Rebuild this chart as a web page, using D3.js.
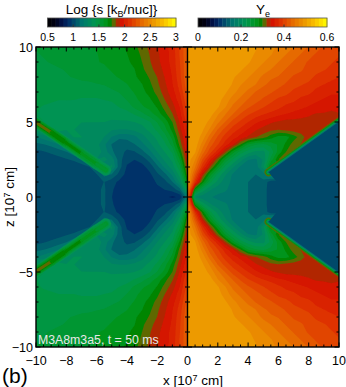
<!DOCTYPE html>
<html>
<head>
<meta charset="utf-8">
<script src="https://cdn.jsdelivr.net/npm/d3@7"></script>
<style>
  html, body { margin: 0; padding: 0; background: white; }
  svg { display: block; }
  text { font-family: "Liberation Sans", sans-serif; fill: black; }
</style>
</head>
<body>
<div id="chart"></div>
<script>
// entropy, Log s, grid: rows z = 10 ... 0 (step 0.5), columns x = -10 ... 0 (step 0.5)
const entropyRows = [
  [1.52,1.53,1.54,1.55,1.56,1.57,1.58,1.59,1.6,1.62,1.64,1.66,1.68,1.72,1.8,1.84,1.9,1.96,2.02,2.15,2.3],
  [1.51,1.52,1.53,1.54,1.55,1.56,1.57,1.58,1.59,1.61,1.63,1.65,1.67,1.7,1.77,1.83,1.89,1.95,2.01,2.15,2.3],
  [1.5,1.51,1.52,1.53,1.54,1.55,1.56,1.57,1.59,1.6,1.62,1.64,1.66,1.69,1.75,1.82,1.88,1.95,2.01,2.14,2.3],
  [1.49,1.5,1.5,1.51,1.52,1.53,1.54,1.55,1.56,1.58,1.6,1.62,1.64,1.67,1.73,1.8,1.86,1.93,2,2.13,2.3],
  [1.48,1.49,1.49,1.5,1.51,1.52,1.53,1.54,1.55,1.56,1.58,1.6,1.63,1.66,1.7,1.76,1.83,1.91,1.99,2.12,2.3],
  [1.48,1.48,1.48,1.48,1.49,1.49,1.5,1.5,1.51,1.52,1.54,1.56,1.59,1.63,1.67,1.73,1.81,1.89,1.98,2.1,2.28],
  [1.48,1.47,1.47,1.47,1.47,1.47,1.47,1.47,1.47,1.48,1.5,1.52,1.56,1.6,1.65,1.7,1.78,1.87,1.95,2.07,2.25],
  [1.47,1.46,1.45,1.44,1.44,1.44,1.43,1.43,1.43,1.44,1.45,1.48,1.52,1.57,1.62,1.66,1.73,1.83,1.92,2.03,2.22],
  [1.45,1.43,1.42,1.41,1.41,1.4,1.4,1.4,1.4,1.4,1.41,1.44,1.47,1.53,1.58,1.62,1.68,1.78,1.87,1.99,2.18],
  [1.44,1.42,1.4,1.39,1.39,1.38,1.38,1.38,1.38,1.38,1.38,1.39,1.4,1.44,1.49,1.55,1.62,1.72,1.82,1.96,2.15],
  [1.5,1.44,1.42,1.4,1.38,1.37,1.36,1.36,1.36,1.36,1.35,1.35,1.35,1.36,1.38,1.43,1.52,1.62,1.75,1.92,2.1],
  [1.4,1.39,1.38,1.37,1.36,1.36,1.35,1.34,1.33,1.31,1.29,1.28,1.28,1.3,1.33,1.38,1.46,1.56,1.7,1.88,2.06],
  [1.2,1.24,1.3,1.33,1.35,1.36,1.36,1.35,1.33,1.28,1.2,1.15,1.15,1.18,1.25,1.32,1.38,1.48,1.62,1.83,2.02],
  [1.1,1.12,1.15,1.2,1.27,1.33,1.35,1.35,1.31,1.22,1.12,1.06,1.08,1.12,1.18,1.26,1.34,1.42,1.55,1.78,2],
  [1.02,1.04,1.06,1.08,1.12,1.18,1.25,1.32,1.33,1.25,1.14,1.08,1.03,1.04,1.1,1.18,1.28,1.36,1.45,1.7,1.97],
  [1,1,1,1.02,1.04,1.06,1.12,1.2,1.28,1.3,1.25,1.08,.99,.97,1,1.08,1.2,1.3,1.38,1.6,1.93],
  [.99,.98,.98,.98,.98,.99,1,1.04,1.14,1.24,1.3,1.08,.96,.93,.94,1,1.1,1.22,1.32,1.5,1.88],
  [.98,.98,.98,.98,.98,.98,.98,1,1.04,1.15,1.12,1.02,.94,.92,.92,.95,1.03,1.1,1.22,1.4,1.8],
  [.97,.97,.97,.97,.97,.97,.97,.98,1,1.05,1,.95,.92,.91,.91,.93,.98,1.02,1.12,1.3,1.7],
  [.97,.97,.97,.97,.97,.97,.97,.97,1.03,1.06,.98,.93,.92,.91,.91,.93,.95,.97,1,1.1,1.5],
  [.97,.97,.97,.97,.97,.97,.97,.97,1.03,1.06,.97,.93,.92,.91,.91,.92,.92,.9,.88,.9,1.2]
];

// electron fraction Ye: rows z = 10 ... 0 (step 0.5), columns x = 0 ... 10 (step 0.5)
const yeRows = [
  [.5,.5,.5,.5,.5,.5,.5,.5,.5,.49,.48,.475,.465,.46,.45,.44,.43,.42,.41,.405,.4],
  [.5,.5,.5,.5,.5,.5,.5,.5,.495,.485,.475,.47,.46,.45,.44,.43,.42,.41,.405,.4,.395],
  [.5,.5,.5,.5,.5,.5,.5,.5,.49,.48,.47,.46,.45,.44,.43,.42,.41,.405,.4,.395,.39],
  [.5,.5,.5,.5,.5,.5,.5,.49,.48,.47,.46,.45,.44,.43,.42,.415,.405,.4,.395,.39,.385],
  [.5,.5,.5,.5,.5,.5,.49,.48,.47,.46,.445,.435,.43,.42,.41,.405,.4,.39,.385,.38,.375],
  [.5,.5,.5,.5,.5,.5,.485,.47,.46,.45,.435,.425,.42,.41,.4,.395,.39,.38,.375,.37,.37],
  [.5,.5,.5,.5,.5,.49,.475,.46,.445,.43,.42,.415,.405,.4,.39,.385,.38,.37,.365,.36,.36],
  [.5,.5,.5,.5,.495,.48,.46,.445,.43,.42,.41,.4,.39,.385,.38,.37,.365,.36,.355,.35,.35],
  [.5,.5,.5,.5,.49,.47,.445,.43,.415,.405,.395,.385,.38,.37,.365,.36,.355,.35,.345,.345,.345],
  [.5,.5,.5,.495,.47,.45,.43,.41,.395,.385,.375,.37,.36,.355,.35,.345,.34,.335,.335,.33,.335],
  [.5,.5,.5,.48,.455,.43,.405,.39,.375,.36,.35,.34,.335,.33,.33,.33,.33,.33,.33,.33,.33],
  [.5,.5,.49,.465,.43,.405,.385,.37,.355,.34,.33,.325,.32,.325,.33,.33,.33,.33,.33,.33,.33],
  [.5,.5,.48,.44,.41,.385,.365,.35,.335,.32,.31,.29,.275,.275,.29,.31,.33,.33,.33,.33,.33],
  [.5,.5,.46,.42,.395,.365,.34,.3,.26,.245,.24,.25,.265,.285,.31,.32,.32,.3,.3,.3,.3],
  [.5,.49,.44,.4,.365,.32,.27,.235,.215,.2,.2,.23,.27,.3,.31,.3,.3,.3,.3,.3,.3],
  [.5,.47,.41,.36,.31,.26,.225,.195,.17,.165,.19,.25,.3,.3,.28,.28,.28,.28,.28,.28,.28],
  [.5,.45,.38,.32,.27,.22,.19,.165,.15,.155,.2,.29,.28,.2,.115,.115,.115,.115,.115,.115,.115],
  [.5,.42,.33,.27,.22,.19,.165,.155,.15,.15,.16,.19,.2,.115,.115,.115,.115,.115,.115,.115,.115],
  [.5,.38,.29,.23,.2,.175,.165,.155,.15,.148,.145,.12,.115,.115,.115,.115,.115,.115,.115,.115,.115],
  [.48,.28,.22,.19,.175,.17,.165,.155,.15,.148,.145,.115,.115,.115,.115,.115,.115,.115,.115,.115,.115],
  [.45,.19,.175,.17,.165,.165,.16,.155,.15,.148,.145,.115,.115,.115,.115,.115,.115,.115,.115,.115,.115]
];

// thin high entropy ridge in the left panel (upper side, mirrored)
const ridgeX = [-10.2, -9, -8, -7, -6, -5.4];
const ridgeZ = [5.1, 4.3, 3.6, 2.9, 2.2, 1.8];
const ridgePeak = [1.8, 1.74, 1.7, 1.64, 1.56, 1.5];
const ridgeBase = 1.3;
const ridgeShares = [0.25, 0.5, 0.7, 0.85, 1];
const ridgeWidths = [11, 9, 7, 5, 3];

// shock front in the right panel, low Ye sits below it
const shockX = [5.35, 10.1];
const shockZ = [1.65, 5.1];
const shockRim = [0.31, 0.28, 0.22, 0.16];
const shockWidths = [8, 6, 4, 2];
const wedgeYe = 0.115;
const wedgeX = [5.35, 10.1, 10.1, 5.35, 5.9, 5.9];
const wedgeZ = [1.65, 5.1, -5.1, -1.65, -1, 1];

// colour table, position along the bar and colour
const cmapStops = [0, .06, .12, .17, .27, .37, .45, .49, .52, .56, .64, .74, .82, .90, 1];
const cmapColors = ["#000000", "#000014", "#001450", "#003269", "#00786e", "#009650", "#00961e", "#008200",
                    "#6e6400", "#d20a00", "#de3200", "#e66e00", "#eb9600", "#fabe00", "#ffff00"];
const nLevels = 32;

const sDomain = [0.5, 3];
const yeDomain = [0, 0.6];
const sTicks = [0.5, 1, 1.5, 2, 2.5, 3];
const yeTicks = [0, 0.2, 0.4, 0.6];
const xMajor = [-10, -8, -6, -4, -2, 0, 2, 4, 6, 8, 10];
const zMajor = [-10, -5, 0, 5, 10];

const svg = d3.select("#chart").append("svg")
    .attr("width", 346)
    .attr("height", 387);

const frame = {left: 36, mid: 187.5, right: 339, top: 47, bottom: 347};

const xScale = d3.scaleLinear().domain([-10, 10]).range([frame.left, frame.right]);
const zScale = d3.scaleLinear().domain([-10, 10]).range([frame.bottom, frame.top]);
const cmap = d3.scaleLinear().domain(cmapStops).range(cmapColors).interpolate(d3.interpolateRgb);

// colour of one band of the table, every mark is painted with these
const bandColor = i => cmap((i + 0.5) / nLevels);
const valueColor = (v, domain) => bandColor(Math.floor((v - domain[0]) / (domain[1] - domain[0]) * nLevels));

const defs = svg.append("defs");
defs.append("filter").attr("id", "soft")
    .attr("x", 0).attr("y", 0).attr("width", 1).attr("height", 1)
  .append("feGaussianBlur").attr("stdDeviation", 0.5);

// one half of the frame: the rows only cover z >= 0, the field is mirrored about the equator
function drawPanel(rows, domain, xStart, xEnd, id) {
    const full = rows.concat(rows.slice(0, -1).reverse());
    const nx = rows[0].length;
    const nz = full.length;
    const step = (domain[1] - domain[0]) / nLevels;
    const levels = d3.range(nLevels).map(i => domain[0] + i * step);

    const contours = d3.contours().size([nx, nz]).thresholds(levels)(full.flat());

    // grid indices -> data -> pixels (d3.contours puts sample i at i + 0.5)
    const toPixels = d3.geoTransform({
        point(cx, cy) {
            const x = xStart + (cx - 0.5) / (nx - 1) * (xEnd - xStart);
            const z = 10 - (cy - 0.5) / (nz - 1) * 20;
            this.stream.point(xScale(x), zScale(z));
        }
    });
    const path = d3.geoPath(toPixels);

    defs.append("clipPath").attr("id", id)
      .append("rect")
        .attr("x", xScale(xStart))
        .attr("y", frame.top)
        .attr("width", xScale(xEnd) - xScale(xStart))
        .attr("height", frame.bottom - frame.top);

    const g = svg.append("g")
        .attr("clip-path", `url(#${id})`)
      .append("g")
        .attr("filter", "url(#soft)");

    g.selectAll("path")
      .data(contours)
      .join("path")
        .attr("d", path)
        .attr("fill", (d, i) => bandColor(i));

    return g;
}

const leftField = drawPanel(entropyRows, sDomain, -10, 0, "clipLeft");
const rightField = drawPanel(yeRows, yeDomain, 0, 10, "clipRight");

// ridge, nested strokes, both hemispheres
[1, -1].forEach(sign => {
    ridgeShares.forEach((share, k) => {
        d3.range(ridgeX.length - 1).forEach(i => {
            leftField.append("line")
                .attr("x1", xScale(ridgeX[i]))
                .attr("y1", zScale(sign * ridgeZ[i]))
                .attr("x2", xScale(ridgeX[i + 1]))
                .attr("y2", zScale(sign * ridgeZ[i + 1]))
                .attr("stroke", valueColor(ridgeBase + (ridgePeak[i] - ridgeBase) * share, sDomain))
                .attr("stroke-width", ridgeWidths[k])
                .attr("stroke-linecap", "round");
        });
    });
});

// shock rim, then the low Ye wedge over the lower half of it
[1, -1].forEach(sign => {
    shockRim.forEach((ye, k) => {
        rightField.append("line")
            .attr("x1", xScale(shockX[0]))
            .attr("y1", zScale(sign * shockZ[0]))
            .attr("x2", xScale(shockX[1]))
            .attr("y2", zScale(sign * shockZ[1]))
            .attr("stroke", valueColor(ye, yeDomain))
            .attr("stroke-width", shockWidths[k])
            .attr("stroke-linecap", "round");
    });
});
rightField.append("polygon")
    .attr("points", wedgeX.map((x, i) => [xScale(x), zScale(wedgeZ[i])].join(",")).join(" "))
    .attr("fill", valueColor(wedgeYe, yeDomain));

// colour bars
function drawBar(x0, x1, domain, ticks) {
    const barTop = 18, barBottom = 27;
    const scale = d3.scaleLinear().domain(domain).range([x0, x1]);
    const band = d3.scaleBand().domain(d3.range(nLevels)).range([x0, x1]);
    const g = svg.append("g");

    g.selectAll("rect.step")
      .data(d3.range(nLevels))
      .join("rect")
        .attr("class", "step")
        .attr("x", d => band(d))
        .attr("y", barTop)
        .attr("width", band.bandwidth() + 0.4)
        .attr("height", barBottom - barTop)
        .attr("fill", d => bandColor(d));

    g.append("rect")
        .attr("x", x0).attr("y", barTop)
        .attr("width", x1 - x0).attr("height", barBottom - barTop)
        .attr("fill", "none")
        .attr("stroke", "#555")
        .attr("stroke-width", 0.8);

    g.selectAll("line.tick")
      .data(ticks.slice(1, -1))
      .join("line")
        .attr("x1", d => scale(d)).attr("x2", d => scale(d))
        .attr("y1", barBottom).attr("y2", barBottom - 2.5)
        .attr("stroke", "#333");

    g.selectAll("text.tl")
      .data(ticks)
      .join("text")
        .attr("class", "tl")
        .attr("x", d => scale(d))
        .attr("y", 41)
        .attr("text-anchor", "middle")
        .style("font-size", "10.5px")
        .text(d => String(d));

    return g;
}

const sBar = drawBar(47.5, 176, sDomain, sTicks);
sBar.append("text")
    .attr("x", 111.5).attr("y", 14)
    .attr("text-anchor", "middle")
    .style("font-size", "13.5px")
    .html('Log {s [k<tspan dy="3" font-size="9px">B</tspan><tspan dy="-3">/nuc]}</tspan>');

const yeBar = drawBar(198, 327, yeDomain, yeTicks);
yeBar.append("text")
    .attr("x", 263).attr("y", 14)
    .attr("text-anchor", "middle")
    .style("font-size", "13.5px")
    .html('Y<tspan dy="3" font-size="9px">e</tspan>');

// frame and ticks
const minus = d => String(d).replace("-", "\u2212");
const axisG = svg.append("g").attr("stroke", "black").attr("fill", "none");

function ticksX(y, dir) {
    axisG.selectAll(null)
      .data(d3.range(-10, 10.01, 0.5))
      .join("line")
        .attr("x1", d => xScale(d)).attr("x2", d => xScale(d))
        .attr("y1", y)
        .attr("y2", d => y + dir * (xMajor.includes(d) ? 4.5 : 2.5));
}
ticksX(frame.top, 1);
ticksX(frame.bottom, -1);

function ticksZ(x, dir) {
    axisG.selectAll(null)
      .data(d3.range(-10, 10.01, 1))
      .join("line")
        .attr("x1", x)
        .attr("x2", d => x + dir * (zMajor.includes(d) ? 4.5 : 2.5))
        .attr("y1", d => zScale(d)).attr("y2", d => zScale(d));
}
ticksZ(frame.left, 1);
ticksZ(frame.right, -1);
ticksZ(frame.mid, 1);
ticksZ(frame.mid, -1);

axisG.append("rect")
    .attr("x", frame.left).attr("y", frame.top)
    .attr("width", frame.right - frame.left)
    .attr("height", frame.bottom - frame.top)
    .attr("stroke-width", 1.4);
axisG.append("line")
    .attr("x1", frame.mid).attr("x2", frame.mid)
    .attr("y1", frame.top).attr("y2", frame.bottom)
    .attr("stroke-width", 1.4);

// tick labels
svg.selectAll("text.xl")
  .data(xMajor)
  .join("text")
    .attr("class", "xl")
    .attr("x", d => xScale(d))
    .attr("y", 365)
    .attr("text-anchor", "middle")
    .style("font-size", "12.5px")
    .text(minus);

svg.selectAll("text.zl")
  .data(zMajor)
  .join("text")
    .attr("class", "zl")
    .attr("x", 33)
    .attr("y", d => zScale(d) + 4.5)
    .attr("text-anchor", "end")
    .style("font-size", "12.5px")
    .text(minus);

// axis titles
svg.append("text")
    .attr("x", 193).attr("y", 385)
    .attr("text-anchor", "middle")
    .style("font-size", "13.5px")
    .html('x [10<tspan dy="-4" font-size="9px">7</tspan><tspan dy="4"> cm]</tspan>');

svg.append("text")
    .attr("transform", "translate(14,197) rotate(-90)")
    .attr("text-anchor", "middle")
    .style("font-size", "13.5px")
    .html('z [10<tspan dy="-4" font-size="9px">7</tspan><tspan dy="4"> cm]</tspan>');

svg.append("text")
    .attr("x", 38).attr("y", 344)
    .style("font-size", "12.3px")
    .style("fill", "#e8e8e8")
    .text("M3A8m3a5, t = 50 ms");

svg.append("text")
    .attr("x", 2).attr("y", 383)
    .style("font-size", "21px")
    .text("(b)");
</script>
</body>
</html>
